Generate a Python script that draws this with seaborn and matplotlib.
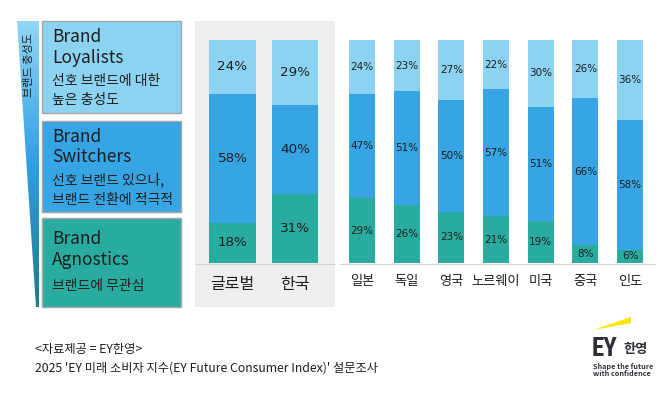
import numpy as np
import pandas as pd
import matplotlib.pyplot as plt
from matplotlib.patches import Rectangle, Polygon
from matplotlib.colors import LinearSegmentedColormap
import seaborn as sns

# data
main_groups = ['글로벌', '한국']
main_agnostics = [18, 31]
main_switchers = [58, 40]
main_loyalists = [24, 29]

countries = ['일본', '독일', '영국', '노르웨이', '미국', '중국', '인도']
agnostics = [29, 26, 23, 21, 19, 8, 6]
switchers = [47, 51, 50, 57, 51, 66, 58]
loyalists = [24, 23, 27, 22, 30, 26, 36]

C_LOY = '#8cd3f2'
C_SW = '#37a4e4'
C_AG = '#29aba0'
TXT = '#1e1e1e'

sns.set_theme(style='white')
plt.rcParams['font.family'] = ['Noto Sans CJK KR', 'DejaVu Sans']

W, H = 670, 396
fig = plt.figure(figsize=(6.7, 3.96), dpi=100)

# background layer, pixel coordinates
bg = fig.add_axes([0, 0, 1, 1], zorder=0)
bg.set_xlim(0, W)
bg.set_ylim(H, 0)
bg.axis('off')


def px_axes(x0, y0, x1, y1):
    return fig.add_axes([x0 / W, 1 - y1 / H, (x1 - x0) / W, (y1 - y0) / H], zorder=1)


def stacked(ax, cats, ag, sw, loy, width, fs, fs_cat):
    df = pd.DataFrame({'cat': cats, 'ag': ag, 'sw': sw, 'loy': loy})
    df['mid'] = df['ag'] + df['sw']
    df['top'] = df['mid'] + df['loy']
    for col, c in [('top', C_LOY), ('mid', C_SW), ('ag', C_AG)]:
        sns.barplot(data=df, x='cat', y=col, color=c, width=width, saturation=1,
                    linewidth=0, errorbar=None, ax=ax)
    for i, r in df.iterrows():
        for lo, v in [(0, r.ag), (r.ag, r.sw), (r.mid, r.loy)]:
            ax.text(i, lo + v / 2, f'{v}%', ha='center', va='center', fontsize=fs,
                    family='DejaVu Sans', color=TXT)
    ax.set_ylim(0, 100)
    ax.set_xlim(-0.5, len(cats) - 0.5)
    ax.set_xlabel('')
    ax.set_ylabel('')
    ax.set_yticks([])
    ax.tick_params(axis='x', length=0, pad=9, labelsize=fs_cat, colors=TXT)
    ax.patch.set_alpha(0)
    sns.despine(ax=ax, left=True, bottom=True)


# grey panel + baselines
bg.add_patch(Rectangle((195, 21), 140, 286, color='#efefef', lw=0))
bg.plot([195, 335], [263.5, 263.5], color='#d2d2d2', lw=0.8)
bg.plot([340, 655], [263.5, 263.5], color='#d2d2d2', lw=0.8)

# legend boxes
boxes = [
    (21, 92, C_LOY, ['Brand', 'Loyalists'], ['선호 브랜드에 대한', '높은 충성도'], [37, 58, 81, 100]),
    (121, 91, C_SW, ['Brand', 'Switchers'], ['선호 브랜드 있으나,', '브랜드 전환에 적극적'], [137, 157, 180, 200]),
    (218, 89, C_AG, ['Brand', 'Agnostics'], ['브랜드에 무관심'], [239, 260, 286]),
]
for y0, h, c, eng, kor, ys in boxes:
    bg.add_patch(Rectangle((42, y0), 139, h, fc=c, ec='#a8a8a8', lw=1))
    for t, y in zip(eng + kor, ys):
        bg.text(52, y, t, fontsize=12.5 if t in eng else 10, va='center', ha='left', color=TXT)

# gradient wedge
cmap = LinearSegmentedColormap.from_list('w', ['#93d6f4', '#2f9fe4', '#1b7e86'])
wedge = Polygon([(17, 21), (39, 21), (39, 307), (36, 307)], closed=True, fc='none', ec='none')
bg.add_patch(wedge)
im = bg.imshow(np.linspace(0, 1, 256).reshape(-1, 1), extent=(17, 39, 307, 21),
               aspect='auto', cmap=cmap, zorder=0.5)
im.set_clip_path(wedge)
bg.set_xlim(0, W)
bg.set_ylim(H, 0)
bg.text(29, 65, '브랜드 충성도', rotation=90, ha='center', va='center', fontsize=8, color=TXT)

# bars
ax1 = px_axes(201.25, 40, 326.25, 263)
stacked(ax1, main_groups, main_agnostics, main_switchers, main_loyalists, 0.75, 9.7, 11.5)
ax2 = px_axes(339.7, 40, 652.4, 263)
stacked(ax2, countries, agnostics, switchers, loyalists, 0.58, 7.5, 9.5)

# footer
bg.text(35, 350, '<자료제공 = EY한영>', fontsize=8.8, va='center', color=TXT)
bg.text(35, 368, "2025 'EY 미래 소비자 지수(EY Future Consumer Index)' 설문조사",
        fontsize=8.8, va='center', color=TXT)

# logo
LOGO = '#2e2e38'
bg.add_patch(Polygon([(593, 330), (631, 317), (631, 323)], closed=True, color='#ffe600', lw=0))
bg.text(592, 356, 'EY', fontsize=18, fontweight='bold',
        family=['Roboto Condensed', 'DejaVu Sans Condensed', 'Liberation Sans Narrow', 'Roboto'],
        color=LOGO, va='baseline')
bg.text(623, 348.5, '한영', fontsize=9.5, fontweight='bold', color=LOGO, va='center')
bg.text(593, 366, 'Shape the future', fontsize=5.2, fontweight='bold', color=LOGO, va='center')
bg.text(593, 374, 'with confidence', fontsize=5.2, fontweight='bold', color=LOGO, va='center')

fig.savefig('out.png', dpi=100)
